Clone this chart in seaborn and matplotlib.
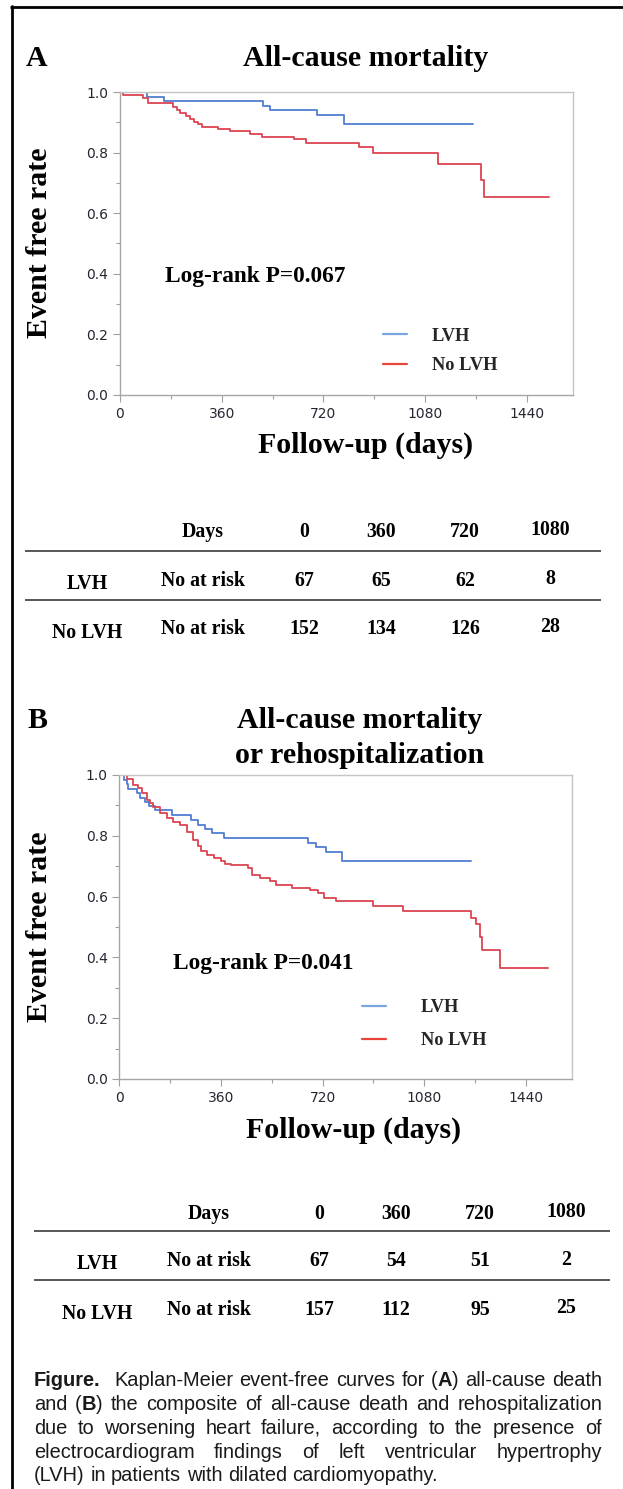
# Kaplan-Meier curves, LVH vs no LVH (two panels + at-risk tables + caption)

import pandas as pd
import matplotlib
matplotlib.use("Agg")
import matplotlib.pyplot as plt
import seaborn as sns
from matplotlib.lines import Line2D
from matplotlib.ticker import MultipleLocator, FormatStrFormatter
from matplotlib import font_manager

# ---- values ----
# Panel A: all-cause mortality
A_lvh_days = [0, 97, 157, 506, 530, 696, 794, 1250]
A_lvh_surv = [1.0, 0.985, 0.970, 0.955, 0.940, 0.925, 0.895, 0.895]
A_nolvh_days = [0, 10, 82, 100, 186, 200, 214, 235, 249, 263, 277, 291, 347, 389,
                460, 502, 614, 657, 846, 896, 1125, 1278, 1287, 1517]
A_nolvh_surv = [1.0, 0.990, 0.980, 0.963, 0.950, 0.940, 0.930, 0.920, 0.910, 0.900,
                0.893, 0.886, 0.879, 0.870, 0.863, 0.852, 0.844, 0.832, 0.818, 0.798,
                0.763, 0.711, 0.655, 0.655]

# Panel B: all-cause mortality or rehospitalization
B_lvh_days = [0, 15, 28, 32, 64, 75, 90, 105, 126, 188, 255, 280, 305, 330, 370,
              668, 696, 731, 787, 1247]
B_lvh_surv = [1.0, 0.985, 0.970, 0.955, 0.940, 0.925, 0.910, 0.897, 0.885, 0.869,
              0.852, 0.836, 0.822, 0.809, 0.792, 0.776, 0.763, 0.746, 0.716, 0.716]
B_nolvh_days = [0, 26, 50, 67, 79, 97, 109, 120, 144, 168, 191, 215, 239, 262, 280,
                288, 309, 337, 359, 373, 394, 457, 471, 499, 534, 555, 612, 675, 703,
                724, 766, 897, 1005, 1245, 1262, 1278, 1286, 1349, 1517]
B_nolvh_surv = [1.0, 0.986, 0.967, 0.956, 0.940, 0.918, 0.907, 0.896, 0.874, 0.858,
                0.847, 0.836, 0.814, 0.787, 0.765, 0.749, 0.738, 0.727, 0.716, 0.708,
                0.704, 0.694, 0.672, 0.661, 0.650, 0.639, 0.628, 0.621, 0.612, 0.596,
                0.585, 0.568, 0.552, 0.530, 0.510, 0.468, 0.424, 0.364, 0.364]

x_ticks = [0, 360, 720, 1080, 1440]
y_ticks = [0.0, 0.2, 0.4, 0.6, 0.8, 1.0]

table_days = [0, 360, 720, 1080]
A_risk_lvh = [67, 65, 62, 8]
A_risk_nolvh = [152, 134, 126, 28]
B_risk_lvh = [67, 54, 51, 2]
B_risk_nolvh = [157, 112, 95, 25]

A_pvalue = "Log-rank P=0.067"
B_pvalue = "Log-rank P=0.041"

# ---- style ----
sns.set_style("white")
plt.rcParams["font.family"] = ["DejaVu Sans"]

installed = {f.name for f in font_manager.fontManager.ttflist}
SERIF = "Liberation Serif"
SANS = "Liberation Sans"
NARROW = "Liberation Sans Narrow" if "Liberation Sans Narrow" in installed else SANS

BLUE, RED = "#4f7ed2", "#dc4452"
LEG_BLUE, LEG_RED = "#7aa6e0", "#e8453a"

W, H = 623, 1489
fig = plt.figure(figsize=(W / 100, H / 100), dpi=100)


def fx(x):
    return x / W


def fy(y):
    return 1 - y / H


def stext(x, y, s, size, ha="center", va="baseline", **kw):
    fig.text(fx(x), fy(y), s, ha=ha, va=va, family=SERIF, weight="bold",
             fontsize=size, color="black", **kw)


def hline(x0, x1, y, color="#4a4a4a", lw=1.3):
    fig.add_artist(Line2D([fx(x0), fx(x1)], [fy(y), fy(y)], transform=fig.transFigure,
                          color=color, lw=lw, solid_capstyle="butt"))


def km_frame(lvh_days, lvh_surv, no_days, no_surv):
    return pd.DataFrame({
        "day": lvh_days + no_days,
        "surv": lvh_surv + no_surv,
        "group": ["LVH"] * len(lvh_days) + ["No LVH"] * len(no_days),
    })


def draw_panel(rect, df, leg_anchor, leg_pad, leg_space):
    ax = fig.add_axes(rect)
    sns.lineplot(data=df, x="day", y="surv", hue="group",
                 palette={"LVH": BLUE, "No LVH": RED}, estimator=None,
                 drawstyle="steps-post", linewidth=1.3, legend=False, ax=ax)
    ax.set_xlim(0, 1603)
    ax.set_ylim(0, 1.0)
    ax.set_xticks(x_ticks)
    ax.set_yticks(y_ticks)
    ax.xaxis.set_minor_locator(MultipleLocator(180))
    ax.yaxis.set_minor_locator(MultipleLocator(0.1))
    ax.yaxis.set_major_formatter(FormatStrFormatter("%.1f"))
    ax.set_xlabel("")
    ax.set_ylabel("")
    ax.tick_params(which="major", direction="out", length=4.8, width=0.8,
                   color="#a0a0a0", pad=3.6, labelsize=10, labelcolor="#262633")
    ax.tick_params(which="minor", direction="out", length=3, width=0.8, color="#a0a0a0")
    ax.tick_params(axis="both", which="both", bottom=True, left=True)
    for side in ["left", "bottom"]:
        ax.spines[side].set_color("#a6a6a6")
    for side in ["top", "right"]:
        ax.spines[side].set_color("#c4c4c4")
    for sp in ax.spines.values():
        sp.set_linewidth(1.0)
    handles = [Line2D([], [], color=LEG_BLUE, lw=1.6),
               Line2D([], [], color=LEG_RED, lw=1.6)]
    ax.legend(handles, ["LVH", "No LVH"], loc="upper left", bbox_to_anchor=leg_anchor,
              frameon=False, borderpad=0, borderaxespad=0, handlelength=1.3,
              handletextpad=leg_pad, labelspacing=leg_space,
              prop={"family": SERIF, "weight": "bold", "size": 13.2})
    return ax


def risk_table(cols, rows_y, header_y, line_y, x0, x1, risk_lvh, risk_nolvh):
    size = 14.3
    stext(cols[1], header_y, "Days", size)
    for i, d in enumerate(table_days):
        off = -2 if i == 3 else 0
        stext(cols[2 + i], header_y + off, str(d), size)
    hline(x0, x1, line_y[0])
    for (label, vals, y, dy) in [("LVH", risk_lvh, rows_y[0], 3),
                                 ("No LVH", risk_nolvh, rows_y[1], 4)]:
        stext(cols[0], y + dy, label, size)
        stext(cols[1], y, "No at risk", size)
        for i, v in enumerate(vals):
            off = -1.5 if i == 3 else 0
            stext(cols[2 + i], y + off, str(v), size)
    hline(x0, x1, line_y[1])


# ---- panel A ----
dfA = km_frame(A_lvh_days, A_lvh_surv, A_nolvh_days, A_nolvh_surv)
draw_panel([fx(120), fy(395), (573 - 120) / W, (395 - 92) / H], dfA,
           (0.58, 0.222), 1.36, 0.68)
stext(37, 66, "A", 21.5)
stext(366, 66, "All-cause mortality", 21.5)
stext(40, 243, "Event free rate", 21.5, va="center", rotation=90)
stext(366, 453, "Follow-up (days)", 21.5)
stext(165, 282, A_pvalue, 16.8, ha="left")
risk_table([87, 203, 304, 381, 465, 550], (585.6, 633.6), 537, (551, 600), 25, 601,
           A_risk_lvh, A_risk_nolvh)

# ---- panel B ----
dfB = km_frame(B_lvh_days, B_lvh_surv, B_nolvh_days, B_nolvh_surv)
draw_panel([fx(119.3), fy(1079), (572 - 119.3) / W, (1079 - 775) / H], dfB,
           (0.536, 0.262), 1.9, 0.85)
stext(38, 728, "B", 21.5)
stext(360, 728, "All-cause mortality", 21.5)
stext(360, 763, "or rehospitalization", 21.5)
stext(40, 927, "Event free rate", 21.5, va="center", rotation=90)
stext(354, 1138, "Follow-up (days)", 21.5)
stext(173, 969, B_pvalue, 16.8, ha="left")
risk_table([97, 209, 319, 396, 480, 566], (1266.3, 1314.6), 1218.6, (1231, 1280), 34, 610,
           B_risk_lvh, B_risk_nolvh)

# ---- frame lines (top and left) ----
hline(10, 623, 6.8, color="black", lw=2.0)
fig.add_artist(Line2D([fx(11.5), fx(11.5)], [fy(5.5), fy(1489)], transform=fig.transFigure,
                      color="black", lw=2.0))

# ---- caption, justified ----
renderer = fig.canvas.get_renderer()
CAP = {
    "r": dict(family=SANS, fontsize=14.4, color="#1a1a1a"),
    "b": dict(family=SANS, fontsize=14.4, weight="bold", color="#1a1a1a"),
    "n": dict(family=NARROW, fontsize=14.4, weight="bold", color="#1a1a1a"),
}


def seg_width(s, style):
    t = fig.text(0, 0, s, **CAP[style])
    w = t.get_window_extent(renderer).width
    t.remove()
    return w


def caption_line(words, y, x0, x1, justify=True):
    widths = [sum(seg_width(s, st) for s, st in w) for w in words]
    if justify and len(words) > 1:
        gap = (x1 - x0 - sum(widths)) / (len(words) - 1)
    else:
        gap = seg_width("a a", "r") - seg_width("aa", "r")
    x = x0
    for w, wd in zip(words, widths):
        cx = x
        for s, st in w:
            fig.text(fx(cx), fy(y), s, ha="left", va="baseline", **CAP[st])
            cx += seg_width(s, st)
        x += wd + gap


def plain(text):
    return [[(w, "r")] for w in text.split()]


caption_line([[("Figure.", "n")]], 1386, 34, 92, justify=False)
caption_line(plain("Kaplan-Meier event-free curves for") + [[("(", "r"), ("A", "b"), (")", "r")]]
             + plain("all-cause death"), 1386, 114, 602)
caption_line(plain("and") + [[("(", "r"), ("B", "b"), (")", "r")]]
             + plain("the composite of all-cause death and rehospitalization"), 1410, 34, 602)
caption_line(plain("due to worsening heart failure, according to the presence of"), 1434, 34, 602)
caption_line(plain("electrocardiogram findings of left ventricular hypertrophy"), 1458, 34, 602)
caption_line(plain("(LVH) in patients with dilated cardiomyopathy."), 1481, 34, 602, justify=False)

fig.savefig("out.png", dpi=100)
plt.close(fig)
